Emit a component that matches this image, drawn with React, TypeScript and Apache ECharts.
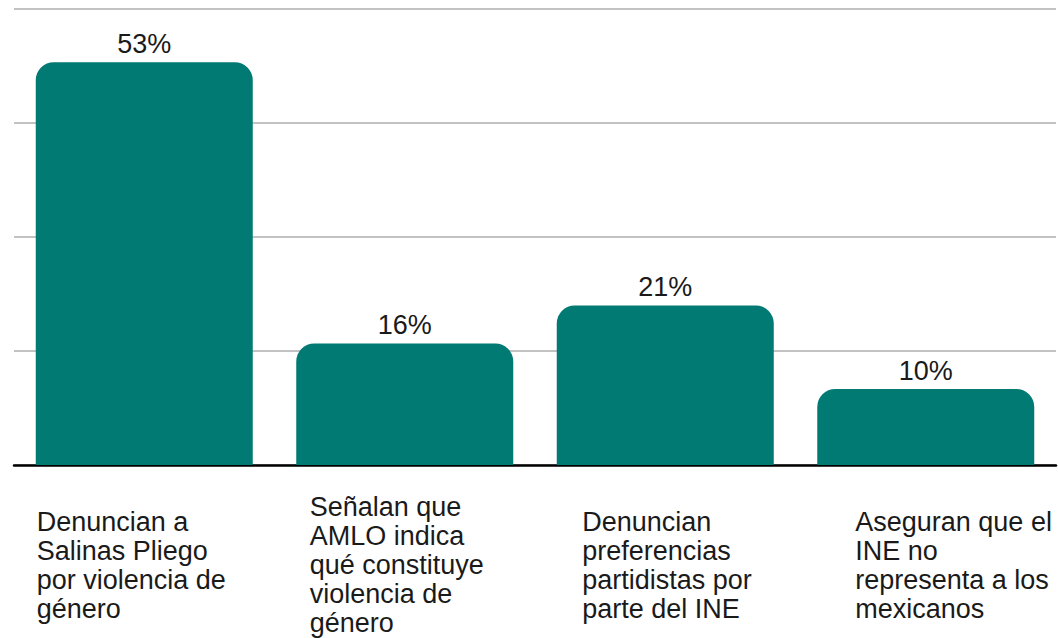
import React, { useEffect, useRef } from "react";
import * as echarts from "echarts";

const categories: string[] = [
  "Denuncian a\nSalinas Pliego\npor violencia de\ngénero",
  "Señalan que\nAMLO indica\nqué constituye\nviolencia de\ngénero",
  "Denuncian\npreferencias\npartidistas por\nparte del INE",
  "Aseguran que el\nINE no\nrepresenta a los\nmexicanos",
];
const values: number[] = [53, 16, 21, 10];
const yMin = 0;
const yMax = 60;
const yInterval = 15;

// label block widths (layout only)
const labelBlockWidths = [215, 190, 166, 141];

export default function App() {
  const ref = useRef<HTMLDivElement>(null);
  useEffect(() => {
    if (!ref.current) return;
    const chart = echarts.init(ref.current, null, { renderer: "svg" });
    const rich: Record<string, any> = {};
    labelBlockWidths.forEach((w, i) => {
      rich["c" + i] = {
        width: w,
        align: "left",
        fontSize: 27,
        lineHeight: 29,
        color: "#1a1a1a",
        fontFamily: "Liberation Sans, Arial, sans-serif",
      };
    });
    chart.setOption({
      animation: false,
      grid: { left: 14, right: 2, top: 9, bottom: 173, containLabel: false },
      xAxis: {
        type: "category",
        data: categories,
        axisLine: { show: true, lineStyle: { color: "#000", width: 2.5 } },
        axisTick: { show: false },
        axisLabel: {
          interval: 0,
          margin: 100,
          verticalAlign: "middle",
          align: "center",
          formatter: (v: string, i: number) => `{c${i}|${v}}`,
          rich,
        },
      },
      yAxis: {
        type: "value",
        min: yMin,
        max: yMax,
        interval: yInterval,
        axisLabel: { show: false },
        axisLine: { show: false },
        axisTick: { show: false },
        splitLine: { show: true, lineStyle: { color: "#c2c2c2", width: 2 } },
      },
      series: [
        {
          type: "bar",
          data: values,
          barWidth: 217,
          itemStyle: { color: "#007A73", borderRadius: [18, 18, 0, 0] },
          label: {
            show: true,
            position: "top",
            distance: 5,
            formatter: (p: any) => `${p.value}%`,
            fontSize: 27,
            color: "#1a1a1a",
            fontFamily: "Liberation Sans, Arial, sans-serif",
          },
        },
      ],
    });
    return () => chart.dispose();
  }, []);
  return (
    <div
      ref={ref}
      style={{ position: "fixed", left: 0, top: 0, width: 1058, height: 638, background: "#fff" }}
    />
  );
}
